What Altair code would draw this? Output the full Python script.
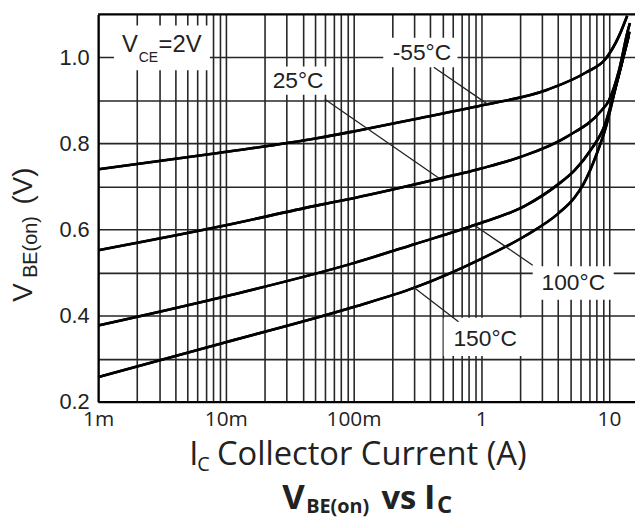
import altair as alt
import pandas as pd

# ---- curve data: collector current (A) vs V_BE(on) (V) ----
ic_m55 = [0.001, 0.0087, 0.0516, 0.1, 0.307, 1.0, 3.3, 6.6, 9.5, 12.0, 13.9]
vbe_m55 = [0.740, 0.778, 0.812, 0.828, 0.857, 0.888, 0.925, 0.965, 0.998, 1.05, 1.097]

ic_25 = [0.001, 0.01, 0.05, 0.1, 0.465, 1.0, 2.0, 4.7, 8.7, 10.0, 12.0, 14.0, 14.6]
vbe_25 = [0.552, 0.610, 0.655, 0.673, 0.718, 0.742, 0.768, 0.816, 0.876, 0.900, 0.970, 1.060, 1.080]

ic_100 = [0.001, 0.01, 0.1, 0.3, 0.9, 2.2, 4.0, 5.4, 7.2, 9.2, 11.5, 14.5]
vbe_100 = [0.377, 0.445, 0.522, 0.566, 0.611, 0.655, 0.705, 0.738, 0.785, 0.840, 0.940, 1.060]

ic_150 = [0.001, 0.01, 0.1, 0.3, 1.0, 2.2, 4.0, 5.4, 6.3, 8.0, 9.5, 11.5, 14.3]
vbe_150 = [0.257, 0.338, 0.420, 0.465, 0.532, 0.585, 0.637, 0.675, 0.705, 0.775, 0.840, 0.940, 1.050]

series = [("-55°C", ic_m55, vbe_m55), ("25°C", ic_25, vbe_25),
          ("100°C", ic_100, vbe_100), ("150°C", ic_150, vbe_150)]

# ---- curve labels (data coordinates) ----
lbl_text = ["-55°C", "25°C", "100°C", "150°C"]
lbl_x = [0.343, 0.0368, 5.26, 1.074]
lbl_y = [1.011, 0.945, 0.476, 0.345]
box_x0 = [0.171, 0.0212, 2.53, 0.508]
box_x1 = [0.652, 0.064, 10.9, 2.31]
box_y0 = [0.977, 0.913, 0.437, 0.306]
box_y1 = [1.046, 0.979, 0.515, 0.395]
lead_x0 = [0.425, 0.0596, 0.897, 0.292]
lead_y0 = [0.977, 0.903, 0.609, 0.467]
lead_x1 = [1.114, 0.465, 2.53, 0.664]
lead_y1 = [0.892, 0.720, 0.517, 0.386]

# V_CE label box
vce_box_x = [0.00133, 0.0075]
vce_box_y = [0.970, 1.074]

# ---- axes ----
x_grid = [m * 10 ** k for k in range(-3, 1) for m in range(1, 10)] + [10]
y_grid = [0.2, 0.3, 0.4, 0.5, 0.6, 0.7, 0.8, 0.9, 1.0]
x_domain = [0.001, 16]
y_domain = [0.2, 1.1]

W, H = 542, 391

rows = []
for name, xs_, ys_ in series:
    for i, (x, y) in enumerate(zip(xs_, ys_)):
        rows.append({"T": name, "Ic": x, "Vbe": y, "order": i})
df = pd.DataFrame(rows)

labels = pd.DataFrame({"text": lbl_text, "x": lbl_x, "y": lbl_y,
                       "bx0": box_x0, "bx1": box_x1, "by0": box_y0, "by1": box_y1,
                       "lx0": lead_x0, "ly0": lead_y0, "lx1": lead_x1, "ly1": lead_y1})
vce_df = pd.DataFrame({"bx0": [vce_box_x[0]], "bx1": [vce_box_x[1]],
                       "by0": [vce_box_y[0]], "by1": [vce_box_y[1]]})
one = pd.DataFrame({"a": [0]})

xs = alt.Scale(type="log", domain=x_domain, nice=False)
ys = alt.Scale(domain=y_domain, nice=False, zero=False)

x_label_expr = ("datum.value == 0.001 ? '1m' : datum.value == 0.01 ? '10m' : "
                "datum.value == 0.1 ? '100m' : datum.value == 1 ? '1' : "
                "datum.value == 10 ? '10' : ''")
y_label_expr = "(round(datum.value*10) % 2 == 0) ? format(datum.value, '.1f') : ''"

GRID = "#262626"

xaxis = alt.Axis(values=x_grid, labelExpr=x_label_expr, grid=True, gridColor=GRID,
                 gridWidth=1.6, ticks=False, domainColor="black", domainWidth=2.2,
                 labelFont="Open Sans", labelFontSize=21, labelColor="#222222",
                 labelPadding=7, labelOverlap=False, labelFlush=False, title=None)
yaxis = alt.Axis(values=y_grid, labelExpr=y_label_expr, grid=True, gridColor=GRID,
                 gridWidth=1.6, ticks=False, domainColor="black", domainWidth=2.2,
                 labelFont="Liberation Sans", labelFontSize=22, labelColor="#222222",
                 labelPadding=9, labelOverlap=False, labelFlush=False, title=None)

base_lines = alt.Chart(df).mark_line(color="black", strokeWidth=2.6, interpolate="monotone").encode(
    x=alt.X("Ic:Q", scale=xs, axis=xaxis),
    y=alt.Y("Vbe:Q", scale=ys, axis=yaxis),
    detail="T:N",
    order="order:Q",
)

boxes = alt.Chart(labels).mark_rect(color="white").encode(
    x=alt.X("bx0:Q", scale=xs), x2="bx1:Q",
    y=alt.Y("by0:Q", scale=ys), y2="by1:Q",
)
vce_box = alt.Chart(vce_df).mark_rect(color="white").encode(
    x=alt.X("bx0:Q", scale=xs), x2="bx1:Q",
    y=alt.Y("by0:Q", scale=ys), y2="by1:Q",
)
leaders = alt.Chart(labels).mark_rule(color="#222222", strokeWidth=1.3).encode(
    x=alt.X("lx0:Q", scale=xs), x2="lx1:Q",
    y=alt.Y("ly0:Q", scale=ys), y2="ly1:Q",
)
lbl_marks = alt.Chart(labels).mark_text(font="Liberation Sans", fontSize=23, color="#222222",
                                        align="center", baseline="middle").encode(
    x=alt.X("x:Q", scale=xs), y=alt.Y("y:Q", scale=ys), text="text:N",
)

top_border = alt.Chart(one).mark_rule(color="black", strokeWidth=2.2).encode(
    x=alt.value(0), x2=alt.value(W), y=alt.value(0)
)


def txt(s, x, y, size, font="Open Sans", weight="normal", angle=0, color="#222222"):
    return alt.Chart(one).mark_text(text=s, font=font, fontSize=size, fontWeight=weight,
                                    align="left", baseline="alphabetic", angle=angle,
                                    color=color).encode(x=alt.value(x), y=alt.value(y))


annotations = [
    # V_CE = 2V
    txt("V", 24, 38, 24, font="Liberation Sans"),
    txt("CE", 41, 48, 14, font="Liberation Sans"),
    txt("=2V", 61, 38, 24, font="Liberation Sans"),
    # y title
    txt("V", -67, 290, 28, font="Liberation Sans", angle=270),
    txt("BE(on)", -62, 266, 20, font="Liberation Sans", angle=270),
    txt("(V)", -67, 192, 28, font="Liberation Sans", angle=270),
    # x title
    txt("I", 92, 455, 33),
    txt("C", 100, 461, 20),
    txt("Collector Current (A)", 120, 455, 33),
    # chart title
    txt("V", 186, 499, 35, weight="bold"),
    txt("BE(on)", 210, 503, 20, weight="bold"),
    txt("vs", 286, 499, 33, weight="bold"),
    txt("I", 329, 499, 35, weight="bold"),
    txt("C", 342, 503, 24, weight="bold"),
]

chart = alt.layer(
    base_lines, boxes, vce_box, base_lines, leaders, lbl_marks, top_border, *annotations
).properties(
    width=W, height=H,
    autosize=alt.AutoSizeParams(type="none"),
    padding={"left": 91, "top": 4, "right": 0, "bottom": 117},
    background="white",
).configure_view(stroke=None)

chart.save("out.html", embed_options={"renderer": "svg", "actions": False})
